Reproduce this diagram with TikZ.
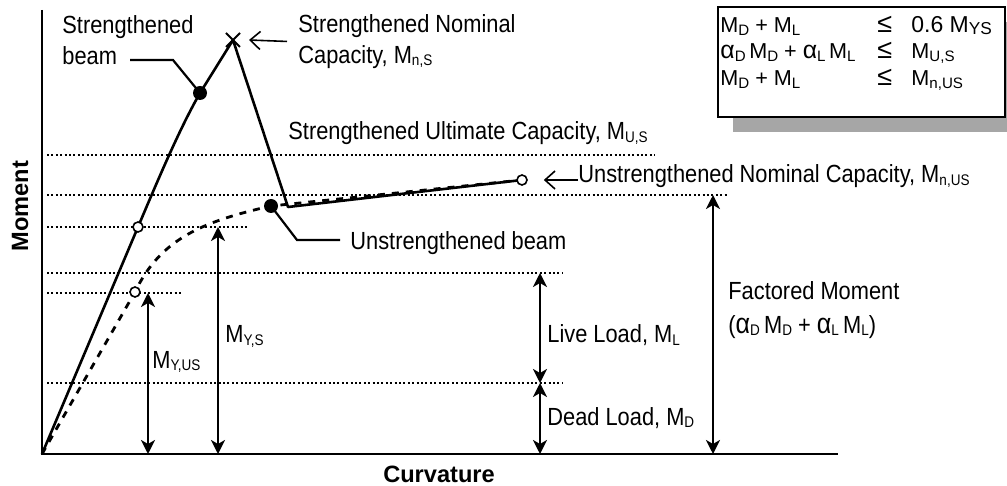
\documentclass[tikz,border=0pt]{standalone}
\usepackage{fontspec}
\usepackage{graphicx}
\usepackage{tikz}
\usetikzlibrary{arrows.meta,positioning,shapes.misc,shadows}
\setmainfont{Liberation Sans}[FakeStretch=0.88]
\newfontfamily\axisfont{Liberation Sans}
\newcommand{\lowidx}[1]{\raisebox{-1.1pt}{\scalebox{0.62}{#1}}}
\newcommand{\boxidx}[1]{\raisebox{-1.1pt}{\scalebox{0.7}{#1}}}
\newcommand{\Mx}[1]{M\lowidx{#1}}
\newcommand{\Bx}[1]{M\boxidx{#1}}
\newcommand{\alf}{\scalebox{1.15}{α}}
\newcommand{\leqbig}{\scalebox{1.25}{≤}}
\tikzset{
  axis/.style={line width=1.4pt},
  curve/.style={line width=1.3pt, line join=round},
  ucurve/.style={line width=1.4pt, dash pattern=on 3.5pt off 3.5pt},
  level/.style={line width=1.3pt, dash pattern=on 1pt off 1.2pt},
  dimarrow/.style={{Stealth[length=7pt,width=7pt,inset=2pt]}-{Stealth[length=7pt,width=7pt,inset=2pt]}, line width=1.1pt},
  pointer/.style={-{Straight Barb[length=5pt,width=9pt]}, line width=0.8pt},
  leader/.style={line width=1.1pt},
  lbl/.style={inner sep=0pt, font=\fontsize{12.4}{15.5}\selectfont},
  boxlbl/.style={inner sep=0pt, font=\axisfont\fontsize{10.8}{13}\selectfont, anchor=base west},
  axislbl/.style={inner sep=0pt, font=\axisfont\bfseries\fontsize{11.8}{14}\selectfont},
  bead/.style={circle, fill=black, inner sep=0pt, minimum size=7pt},
  hollow/.style={circle, draw=black, fill=white, line width=0.8pt, inner sep=0pt, minimum size=5pt},
  cross/.style={cross out, draw=black, line width=1pt, inner sep=0pt, minimum size=6pt},
  limitbox/.style={draw=black, fill=white, line width=1pt, general shadow={fill=black!35, shadow xshift=7.5pt, shadow yshift=-7.5pt}}
}

\begin{document}
\begin{tikzpicture}[x=0.5pt, y=-0.5pt]
  \useasboundingbox (0,0) rectangle (1007,486);
  % points of the two curves
  \coordinate (O) at (42,454);
  \coordinate (ytop) at (42,10);
  \coordinate (xend) at (838,454);
  \coordinate (pys) at (138,227);
  \coordinate (psd) at (200,93);
  \coordinate (psx) at (233,40);
  \coordinate (skink) at (288,207);
  \coordinate (pun) at (522,180);
  \coordinate (pus) at (135,292);
  \coordinate (pud) at (271,206);
  % moment levels
  \foreach \yy/\xx in {155/655, 195/727, 227/248, 273/563, 293/182, 383/563}
    \draw[level] (47,\yy) -- (\xx,\yy);
  \draw[axis] (ytop) -- (O) -- (xend);
  \draw[ucurve] (O) -- (pus) .. controls (160,240) and (200,222) .. (pud) -- (pun);
  \draw[curve] (O) -- (pys) .. controls (160,175) and (180,128) .. (psd) -- (psx) -- (skink) -- (pun);
  \node[hollow] (ysY) at (pys) {};
  \node[hollow] (usY) at (pus) {};
  \node[hollow] (unom) at (pun) {};
  \node[bead] (sbeam) at (psd) {};
  \node[bead] (ubeam) at (pud) {};
  \node[cross] (snom) at (psx) {};
  % labels
  \node[lbl, align=left, anchor=north west] (sbeamlbl) at (62,15) {Strengthened\\beam};
  \node[lbl, align=left, anchor=north west] (snomlbl) at (298,14) {Strengthened Nominal\\Capacity, \Mx{n,S}};
  \node[lbl, anchor=base west] (sultlbl) at (288,140) {Strengthened Ultimate Capacity, \Mx{U,S}};
  \node[lbl, anchor=base west] (unomlbl) at (578,183) {Unstrengthened Nominal Capacity, \Mx{n,US}};
  \node[lbl, anchor=base west] (ubeamlbl) at (350,250) {Unstrengthened beam};
  \node[lbl, anchor=base west] (myuslbl) at (152,368) {\Mx{Y,US}};
  \node[lbl, anchor=base west] (myslbl) at (225,343) {\Mx{Y,S}};
  \node[lbl, anchor=base west] (livelbl) at (547,343) {Live Load, \Mx{L}};
  \node[lbl, anchor=base west] (deadlbl) at (547,425) {Dead Load, \Mx{D}};
  \node[lbl, align=left, anchor=north west, font=\fontsize{12.4}{17}\selectfont] (factlbl) at (728,281)
    {Factored Moment\\(\alf\lowidx{D}\,\Mx{D} + \alf\lowidx{L}\,\Mx{L})};
  \node[axislbl, rotate=90] (ylab) at (20,206) {Moment};
  \node[axislbl, anchor=base] (xlab) at (439,482) {Curvature};
  % leaders and pointers
  \coordinate (sbend) at (130,60);
  \coordinate (sbknee) at (173,60);
  \draw[leader] (sbend) -- (sbknee) -- (sbeam.center);
  \coordinate (ubknee) at (297,240);
  \coordinate (ubend) at (340,240);
  \draw[leader] (ubeam.center) -- (ubknee) -- (ubend);
  \draw[pointer] ([xshift=-5.5pt]snomlbl.west) -- ([xshift=4.5pt]snom.east);
  \draw[pointer] ([yshift=1.5pt]unomlbl.base west) -- ([xshift=8pt]unom.east);
  % dimension arrows
  \draw[dimarrow] (148,293) -- (148,454);
  \draw[dimarrow] (218,227) -- (218,454);
  \draw[dimarrow] (540,273) -- (540,383);
  \draw[dimarrow] (540,383) -- (540,454);
  \draw[dimarrow] (713,195) -- (713,454);
  % limit states
  \node[limitbox, minimum width=143.5pt, minimum height=55pt] (limits) at (861.5,62) {};
  \node[boxlbl] (r1a) at (720,33) {\Bx{D} + \Bx{L}};
  \node[boxlbl] (r1b) at (877,33) {\leqbig};
  \node[boxlbl, font=\axisfont\fontsize{11.5}{13}\selectfont] (r1c) at (911,33) {0.6 M\raisebox{-1pt}{\scalebox{0.75}{YS}}};
  \node[boxlbl] (r2a) at (720,59) {\alf\boxidx{D}\,\Bx{D} + \alf\boxidx{L}\,\Bx{L}};
  \node[boxlbl] (r2b) at (877,59) {\leqbig};
  \node[boxlbl] (r2c) at (911,59) {\Bx{U,S}};
  \node[boxlbl] (r3a) at (720,86) {\Bx{D} + \Bx{L}};
  \node[boxlbl] (r3b) at (877,86) {\leqbig};
  \node[boxlbl] (r3c) at (911,86) {\Bx{n,US}};
\end{tikzpicture}
\end{document}
